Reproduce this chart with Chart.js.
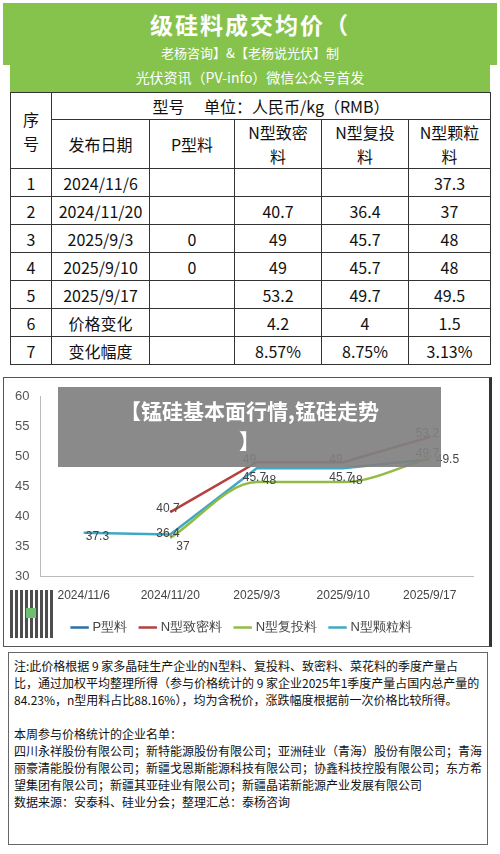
<!DOCTYPE html>
<html lang="zh">
<head>
<meta charset="UTF-8">
<title>硅料成交均价</title>
<script src="https://cdn.jsdelivr.net/npm/chart.js"></script>
<style>
    body { margin: 0; width: 500px; height: 854px; background: #fff; font-family: "Noto Sans CJK SC", sans-serif; position: relative; overflow: hidden; }
    .head { position: absolute; left: 0; top: 0; width: 500px; height: 92px; background: #fff; }
    .band1 { position: absolute; left: 3px; top: 3px; width: 494px; height: 62px; background: #86c34c; color: #fff; text-align: center; }
    .band1 .t1 { font-size: 23px; font-weight: bold; margin-top: 4px; letter-spacing: 2px; }
    .band1 .t2 { font-size: 13px; margin-top: 2px; }
    .band2 { position: absolute; left: 10px; top: 63px; width: 480px; height: 29px; background: #86c34c; color: #fff; text-align: center; font-size: 14px; line-height: 29px; }
    table { position: absolute; left: 10px; top: 92px; width: 481px; border-collapse: collapse; font-size: 16px; color: #111; }
    td { border: 1px solid #333; text-align: center; padding: 0; height: 27px; }
    .chartbox { position: absolute; left: 3px; top: 377px; width: 485px; height: 268px; border: 1px solid #555; border-right: 3px solid #333; }
    .banner { position: absolute; left: 58px; top: 387px; width: 383px; height: 80px; background: rgba(128,128,128,0.92); color: #fff; font-weight: bold; font-size: 21px; text-align: center; line-height: 30px; padding-top: 8px; box-sizing: border-box; }
    .qr { position: absolute; left: 10px; top: 590px; width: 44px; height: 48px;
        background: repeating-linear-gradient(90deg,#222 0 3px,#fff 3px 5px), #fff; opacity: 0.8; }
    .qr::after { content: ""; position: absolute; left: 16px; top: 18px; width: 10px; height: 10px; background: #4caf50; }
    .notes { position: absolute; left: 8px; top: 652px; width: 480px; height: 193px; border: 1px solid #666; font-size: 12px; line-height: 17px; color: #111; padding: 4px 5px; box-sizing: border-box; }
</style>
</head>
<body>
<div class="head">
    <div class="band1"><div class="t1">级硅料成交均价（</div><div class="t2">老杨咨询】&amp;【老杨说光伏】制</div></div>
    <div class="band2">光伏资讯（PV-info）微信公众号首发</div>
</div>
<table id="tbl"></table>
<div class="chartbox"><canvas id="priceChart" width="485" height="268"></canvas></div>
<div class="qr"></div>
<div class="banner">【锰硅基本面行情,锰硅走势<br>】</div>
<div class="notes">
注:此价格根据 9 家多晶硅生产企业的N型料、复投料、致密料、菜花料的季度产量占比，通过加权平均整理所得（参与价格统计的 9 家企业2025年1季度产量占国内总产量的84.23%，n型用料占比88.16%），均为含税价，涨跌幅度根据前一次价格比较所得。<br><br>
本周参与价格统计的企业名单：<br>
四川永祥股份有限公司；新特能源股份有限公司；亚洲硅业（青海）股份有限公司；青海丽豪清能股份有限公司；新疆戈恩斯能源科技有限公司；协鑫科技控股有限公司；东方希望集团有限公司；新疆其亚硅业有限公司；新疆晶诺新能源产业发展有限公司<br>
数据来源：安泰科、硅业分会；整理汇总：泰杨咨询
</div>
<script>
    let dates = ['2024/11/6', '2024/11/20', '2025/9/3', '2025/9/10', '2025/9/17'];
    let pType = [null, null, 0, 0, null];
    let nDense = [null, 40.7, 49, 49, 53.2];
    let nRecharge = [null, 36.4, 45.7, 45.7, 49.7];
    let nGranular = [37.3, 37, 48, 48, 49.5];
    let changes = ['价格变化', '', '4.2', '4', '1.5'];
    let ranges = ['变化幅度', '', '8.57%', '8.75%', '3.13%'];

    // table
    let tbl = document.getElementById('tbl');
    let html = '<tr><td rowspan="2" style="width:40px;height:72px">序<br>号</td><td colspan="5" style="height:26px">型号　 单位：人民币/kg（RMB）</td></tr>';
    html += '<tr><td style="width:97px;height:44px">发布日期</td><td style="width:84px">P型料</td><td style="width:86px">N型致密<br>料</td><td style="width:86px">N型复投<br>料</td><td>N型颗粒<br>料</td></tr>';
    let fmt = v => v == null ? '' : String(v);
    for (let i = 0; i < dates.length; i++) {
        html += '<tr><td>' + (i + 1) + '</td><td>' + dates[i] + '</td><td>' + fmt(pType[i]) + '</td><td>' +
            fmt(nDense[i]) + '</td><td>' + fmt(nRecharge[i]) + '</td><td>' + fmt(nGranular[i]) + '</td></tr>';
    }
    html += '<tr><td>6</td><td>' + changes[0] + '</td><td></td><td>' + changes[2] + '</td><td>' + changes[3] + '</td><td>' + changes[4] + '</td></tr>';
    html += '<tr><td>7</td><td>' + ranges[0] + '</td><td></td><td>' + ranges[2] + '</td><td>' + ranges[3] + '</td><td>' + ranges[4] + '</td></tr>';
    tbl.innerHTML = html;

    // value labels next to points, offsets per series
    let labelShift = [[0, 0], [-14, -3], [-14, -4], [6, 12]];
    let valueLabels = {
        id: 'valueLabels',
        afterDatasetsDraw(chart) {
            let ctx = chart.ctx;
            ctx.save();
            ctx.font = '12px "Liberation Sans", sans-serif';
            ctx.fillStyle = '#444';
            chart.data.datasets.forEach((ds, di) => {
                let meta = chart.getDatasetMeta(di);
                meta.data.forEach((pt, i) => {
                    let v = ds.data[i];
                    if (v == null || v < 30) return;
                    let dx = labelShift[di][0], dy = labelShift[di][1];
                    if (di == 3 && i == 0) { dx = 2; dy = 4; }
                    if (di == 3 && i == 4) { dx = 6; dy = 0; }
                    ctx.fillText(String(v), pt.x + dx, pt.y + dy);
                });
            });
            ctx.restore();
        }
    };

    let ctx = document.getElementById('priceChart').getContext('2d');
    new Chart(ctx, {
        type: 'line',
        data: {
            labels: dates,
            datasets: [
                { label: 'P型料', data: pType, borderColor: '#2e6fa8', borderWidth: 2.5, pointRadius: 0 },
                { label: 'N型致密料', data: nDense, borderColor: '#b5413e', borderWidth: 2.5, pointRadius: 0 },
                { label: 'N型复投料', data: nRecharge, borderColor: '#92bb45', borderWidth: 2.5, pointRadius: 0, cubicInterpolationMode: 'monotone' },
                { label: 'N型颗粒料', data: nGranular, borderColor: '#3fa8c4', borderWidth: 2.5, pointRadius: 0 }
            ]
        },
        options: {
            responsive: false,
            animation: false,
            devicePixelRatio: 1,
            layout: { padding: { top: 18, right: 16, left: 8, bottom: 2 } },
            scales: {
                y: { min: 30, max: 60, ticks: { stepSize: 5, color: '#555', font: { size: 13 } }, grid: { display: false }, border: { color: '#bbb' } },
                x: { offset: true, ticks: { color: '#444', font: { size: 12 }, padding: 4 }, grid: { display: false, offset: true }, border: { color: '#bbb' } }
            },
            plugins: {
                legend: { position: 'bottom', labels: { usePointStyle: true, pointStyle: 'line', color: '#444', font: { size: 13 }, padding: 14 } },
                tooltip: { enabled: false }
            }
        },
        plugins: [valueLabels]
    });
</script>
</body>
</html>
